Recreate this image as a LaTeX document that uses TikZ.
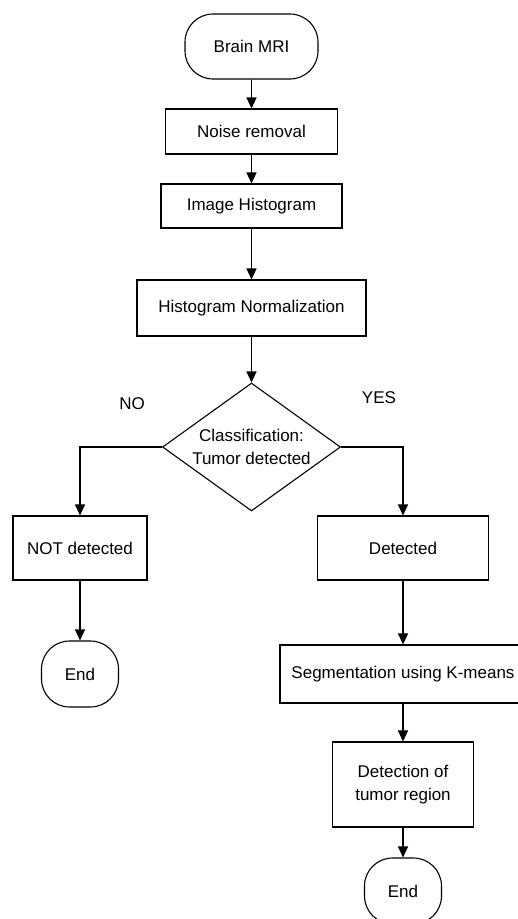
\documentclass[tikz,border=0pt]{standalone}
\usepackage{fontspec}
\setmainfont{Liberation Sans}
\usetikzlibrary{shapes.geometric,arrows.meta}
\begin{document}
\begin{tikzpicture}[x=1pt,y=-1pt,font=\fontsize{17}{23}\selectfont,line width=1.1pt,
every node/.style={draw, align=center, inner sep=0pt},
box/.style={rectangle, minimum width=#1},
term/.style={rectangle, rounded corners=28pt, minimum width=#1},
arr/.style={-{Triangle[width=10pt,length=11pt]}},
lbl/.style={draw=none}]
\clip (0,0) rectangle (518,919);
\node[term=133pt,minimum height=65pt](mri) at (251.5,46.5) {Brain MRI};
\node[box=172pt,minimum height=45pt](noise) at (251.5,131.5) {Noise removal};
\node[box=181pt,minimum height=44pt](hist) at (251.5,206) {Image Histogram};
\node[box=229pt,minimum height=56pt](norm) at (251.5,308) {Histogram Normalization};
\node[diamond,aspect=1.39,minimum width=178pt,minimum height=128pt](cls) at (251.5,447) {Classification:\\Tumor detected};
\node[box=134pt,minimum height=64pt](notdet) at (80,548) {NOT detected};
\node[term=77pt,minimum height=66pt](end1) at (80,674) {End};
\node[box=171pt,minimum height=64pt](det) at (403,548) {Detected};
\node[box=246pt,minimum height=58pt](seg) at (403,674) {Segmentation using K-means};
\node[box=141pt,minimum height=85pt](region) at (403,784.5) {Detection of\\tumor region};
\node[term=77pt,minimum height=66pt](end2) at (403,891) {End};
\node[lbl](no) at (132,404) {NO};
\node[lbl](yes) at (379,398) {YES};
\draw[arr] (mri) -- (noise);
\draw[arr] (noise) -- (hist);
\draw[arr] (hist) -- (norm);
\draw[arr] (norm) -- (cls);
\draw[arr] (cls.west) -| (notdet);
\draw[arr] (cls.east) -| (det);
\draw[arr] (notdet) -- (end1);
\draw[arr] (det) -- (seg);
\draw[arr] (seg) -- (region);
\draw[arr] (region) -- (end2);
\end{tikzpicture}
\end{document}
